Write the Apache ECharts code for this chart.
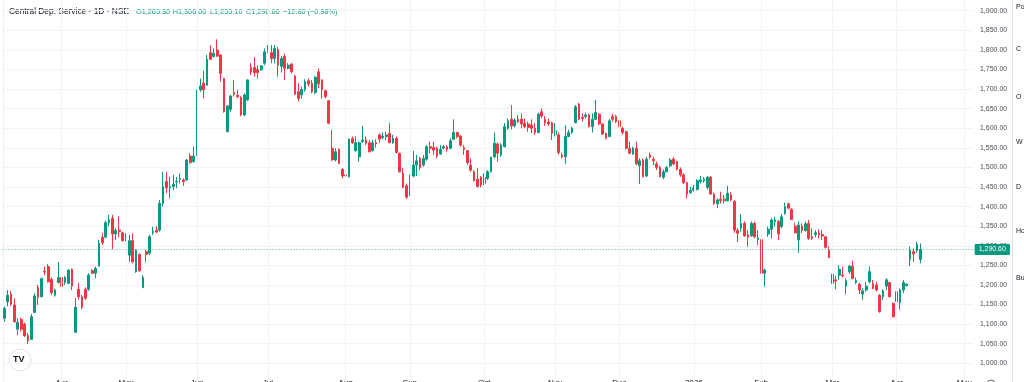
<!DOCTYPE html>
<html><head><meta charset="utf-8">
<script src="https://cdn.jsdelivr.net/npm/echarts@6/dist/echarts.min.js"></script>
<style>html,body{margin:0;padding:0;background:#fff;overflow:hidden}#c{width:1024px;height:382px}</style>
</head><body><div id="c"></div>
<script>
// Daily OHLC, Central Depository Services (NSE), Mar 2025 – Apr 2026
const opens = [1115,1157,1177,1149,1087,1112,1100,1071,1061,1130,1194,1170,1235,1247,1214,1174,1206,1219,1206,1204,
1240,1079,1189,1170,1189,1189,1237,1230,1248,1322,1322,1359,1370,1330,1340,1333,1315,1276,1313,1234,
1278,1193,1285,1281,1333,1340,1340,1408,1464,1448,1451,1463,1470,1468,1468,1529,1515,1532,1698,1715,
1710,1793,1783,1800,1787,1727,1591,1648,1691,1684,1679,1634,1672,1755,1755,1750,1749,1766,1801,1793,
1778,1801,1758,1783,1753,1764,1733,1693,1685,1699,1721,1715,1691,1744,1723,1696,1670,1549,1519,1546,
1495,1481,1476,1574,1543,1527,1566,1570,1563,1543,1563,1583,1576,1579,1587,1563,1574,1536,1485,1453,
1430,1478,1506,1523,1506,1521,1553,1551,1549,1534,1549,1553,1549,1572,1589,1580,1551,1543,1506,1489,
1470,1475,1459,1472,1489,1527,1560,1532,1553,1600,1623,1606,1623,1623,1613,1611,1608,1600,1589,1642,
1623,1616,1614,1583,1583,1532,1527,1579,1589,1614,1662,1628,1630,1634,1604,1623,1636,1611,1587,1579,
1630,1630,1619,1600,1591,1549,1534,1549,1504,1519,1478,1532,1521,1509,1500,1475,1489,1504,1521,1515,
1495,1481,1461,1436,1442,1444,1464,1466,1449,1475,1432,1407,1419,1419,1415,1430,1413,1339,1345,1357,
1328,1325,1357,1316,1316,1230,1330,1342,1362,1362,1349,1383,1407,1393,1350,1315,1350,1339,1357,1323,
1329,1332,1329,1323,1289,1204,1213,1225,1225,1197,1234,1248,1206,1202,1177,1187,1208,1204,1200,1174,
1170,1197,1206,1153,1157,1155,1187,1198,1265,1285,1287.5,1265.3];
const closes = [1140,1174,1151,1106,1105,1087,1070,1058,1119,1172,1168,1216,1233,1208,1180,1187,1219,1196,1219,1238,
1197,1143,1170,1143,1166,1225,1230,1242,1306,1308,1359,1366,1330,1339,1336,1313,1325,1313,1259,1289,
1236,1219,1278,1323,1337,1335,1408,1451,1448,1451,1457,1464,1472,1464,1519,1512,1529,1681,1708,1698,
1776,1776,1791,1784,1740,1642,1657,1682,1687,1681,1634,1685,1723,1744,1742,1742,1759,1795,1795,1778,
1804,1761,1778,1753,1761,1744,1687,1676,1699,1719,1713,1693,1730,1713,1699,1681,1613,1519,1540,1510,
1478,1478,1572,1563,1563,1563,1570,1562,1540,1563,1560,1572,1580,1583,1563,1574,1538,1489,1449,1424,
1475,1506,1517,1500,1523,1553,1549,1544,1529,1546,1553,1546,1568,1589,1579,1557,1546,1512,1493,1466,
1451,1455,1475,1489,1526,1562,1536,1557,1604,1619,1606,1621,1617,1611,1604,1602,1600,1589,1636,1631,
1614,1611,1587,1594,1538,1527,1579,1589,1600,1655,1623,1625,1634,1604,1623,1640,1611,1585,1574,1619,
1623,1617,1604,1589,1549,1536,1549,1509,1517,1476,1521,1526,1517,1500,1476,1489,1500,1519,1509,1495,
1481,1461,1432,1442,1447,1466,1468,1470,1475,1432,1408,1417,1415,1415,1434,1417,1340,1332,1357,1325,
1322,1357,1323,1320,1230,1238,1342,1366,1366,1330,1374,1400,1396,1367,1333,1353,1339,1356,1319,1319,
1333,1328,1325,1296,1270,1228,1210,1240,1223,1211,1248,1217,1211,1187,1185,1197,1234,1191,1187,1132,
1185,1213,1170,1119,1183,1187,1206,1202,1289,1279,1303.4,1290.6];
const lows = [1106,1145,1146,1104,1072,1081,1068,1049,1060,1128,1149,1168,1225,1206,1174,1170,1204,1194,1200,1202,
1187,1078,1163,1138,1162,1185,1228,1217,1248,1302,1319,1349,1291,1315,1322,1311,1311,1259,1255,1231,
1234,1193,1259,1276,1328,1332,1336,1400,1434,1421,1442,1447,1459,1453,1466,1510,1512,1529,1693,1676,
1708,1774,1781,1783,1719,1640,1591,1642,1681,1676,1631,1631,1670,1736,1732,1727,1747,1761,1793,1766,
1766,1732,1742,1723,1750,1740,1685,1668,1676,1693,1706,1689,1687,1702,1676,1676,1610,1517,1515,1509,
1472,1464,1475,1560,1540,1515,1562,1557,1538,1540,1551,1563,1572,1570,1562,1560,1536,1487,1447,1419,
1427,1475,1478,1493,1502,1517,1536,1532,1523,1532,1546,1540,1546,1570,1574,1553,1532,1506,1489,1464,
1449,1449,1455,1468,1487,1523,1515,1527,1551,1596,1597,1602,1613,1600,1600,1591,1587,1583,1587,1625,
1606,1606,1570,1579,1532,1523,1509,1577,1585,1613,1621,1617,1625,1602,1589,1621,1608,1583,1572,1577,
1617,1613,1602,1583,1546,1534,1532,1506,1458,1475,1475,1521,1506,1493,1475,1470,1487,1500,1506,1492,
1476,1458,1421,1432,1438,1441,1459,1461,1444,1430,1404,1396,1408,1408,1413,1413,1333,1310,1336,1323,
1298,1323,1319,1302,1196,1196,1323,1319,1349,1315,1345,1379,1393,1366,1332,1282,1332,1336,1315,1315,
1322,1319,1315,1293,1268,1202,1189,1213,1219,1177,1228,1214,1202,1177,1162,1183,1204,1189,1183,1129,
1162,1187,1168,1117,1149,1138,1179,1196,1248,1259,1282.4,1255.1];
const highs = [1145,1187,1185,1166,1115,1117,1104,1077,1126,1179,1200,1219,1247,1253,1219,1191,1259,1221,1223,1240,
1242,1166,1206,1174,1194,1230,1240,1247,1315,1333,1364,1379,1379,1345,1375,1336,1332,1328,1332,1291,
1281,1225,1289,1328,1349,1350,1417,1489,1489,1476,1481,1476,1485,1472,1521,1536,1553,1698,1727,1747,
1787,1812,1804,1827,1789,1729,1659,1685,1723,1698,1682,1689,1725,1766,1781,1761,1761,1804,1812,1812,
1812,1808,1784,1791,1766,1766,1736,1715,1706,1725,1727,1723,1733,1753,1725,1698,1672,1596,1549,1549,
1498,1489,1574,1579,1579,1566,1606,1579,1570,1570,1572,1587,1589,1591,1613,1583,1579,1538,1498,1459,
1481,1542,1532,1527,1532,1557,1566,1566,1553,1557,1557,1557,1574,1623,1591,1583,1557,1544,1523,1493,
1498,1478,1485,1493,1527,1589,1563,1562,1613,1625,1659,1625,1634,1638,1625,1617,1623,1613,1640,1651,
1631,1625,1617,1613,1589,1538,1608,1596,1604,1659,1665,1638,1640,1638,1638,1672,1638,1613,1589,1623,
1636,1634,1640,1604,1594,1566,1553,1566,1523,1523,1527,1538,1527,1515,1504,1495,1504,1523,1527,1517,
1500,1485,1464,1451,1455,1470,1478,1475,1478,1478,1436,1421,1438,1430,1453,1438,1417,1345,1381,1362,
1340,1362,1362,1340,1319,1242,1349,1370,1374,1366,1381,1410,1410,1396,1359,1362,1357,1362,1366,1345,
1340,1342,1340,1325,1298,1253,1223,1251,1247,1217,1251,1262,1219,1206,1191,1208,1247,1213,1208,1177,
1189,1217,1208,1155,1187,1191,1213,1204,1298,1293,1310.4,1306];
// first trading day of each month (index into the candles) and its axis label
const monthTicks = [[17,'Apr'],[36,'May'],[57,'Jun'],[78,'Jul'],[101,'Aug'],[120,'Sep'],[142,'Oct'],
  [163,'Nov'],[182,'Dec'],[204,'2026'],[224,'Feb'],[245,'Mar'],[264,'Apr'],[284,'May']];
const emptySlotsRight = 15;
const symbolTitle = 'Central Dep. Service · 1D · NSE';
const sidePanelWords = ['Po', 'C', 'O', 'W', 'D', 'Ho', 'Bu'];

const UP = '#089981', DOWN = '#F23645';
const n = opens.length;
const categories = Array.from({length: n + emptySlotsRight}, (_, i) => String(i));
const tickMap = new Map(monthTicks.map(t => [String(t[0]), t[1]]));
const candleData = opens.map((o, i) => [o, closes[i], lows[i], highs[i]]);
const fmt = v => v.toLocaleString('en-US', {minimumFractionDigits: 2, maximumFractionDigits: 2});
const lastO = opens[n-1], lastH = highs[n-1], lastL = lows[n-1], lastC = closes[n-1];
const chg = lastC - closes[n-2];
const pct = chg / closes[n-2] * 100;
const sgn = v => (v < 0 ? '\u2212' : '+') + Math.abs(v).toFixed(2);

const chart = echarts.init(document.getElementById('c'), null, {renderer: 'canvas'});
const FONT = 'Liberation Sans, Arial, sans-serif';
const legendItems = [
  {x: 136, t: 'O' + fmt(lastO)},
  {x: 172.7, t: 'H' + fmt(lastH)},
  {x: 210, t: 'L' + fmt(lastL)},
  {x: 246, t: 'C' + fmt(lastC)},
  {x: 283, t: sgn(chg) + ' (' + sgn(pct) + '%)'}
];
const sideY = [8, 50, 98, 143, 188, 232, 279];
chart.setOption({
  animation: false,
  backgroundColor: '#ffffff',
  grid: {left: 2.6, right: 51.34, top: -8.89, height: 391.8, containLabel: false, outerBoundsMode: 'none'},
  xAxis: {
    type: 'category', data: categories, boundaryGap: true,
    axisLine: {show: false}, axisTick: {show: false},
    offset: 0,
    axisLabel: {
      margin: -4.4, fontSize: 8, color: '#131722', fontFamily: FONT,
      interval: (idx, val) => tickMap.has(val),
      formatter: val => tickMap.get(val) || ''
    },
    splitLine: {show: false}
  },
  yAxis: {
    type: 'value', position: 'right', min: 950, max: 1950, interval: 50,
    axisLine: {show: false}, axisTick: {show: false},
    splitLine: {show: true, lineStyle: {color: '#f0f3fa', width: 1}},
    axisLabel: {
      margin: 7.3, fontSize: 7, color: '#4a4e59', fontFamily: FONT,
      showMinLabel: false, showMaxLabel: false, formatter: v => fmt(v)
    }
  },
  series: [
    {
      type: 'line', data: [], silent: true, z: 1,
      markLine: {
        silent: true, symbol: 'none', label: {show: false},
        lineStyle: {color: '#f0f3fa', width: 1, type: 'solid'},
        data: monthTicks.map(t => ({xAxis: String(t[0])}))
      }
    },
    {
      type: 'candlestick', data: candleData, barWidth: 2.2, z: 3,
      itemStyle: {color: UP, color0: DOWN, borderColor: UP, borderColor0: DOWN, borderWidth: 1},
      markLine: {
        silent: true, symbol: 'none', animation: false,
        lineStyle: {color: 'rgba(8,153,129,0.7)', width: 1, type: [1, 2]},
        label: {
          show: true, position: 'end', distance: 2, formatter: fmt(lastC),
          backgroundColor: UP, color: '#fff', fontSize: 7, fontFamily: FONT,
          padding: [2, 4, 2, 4], borderRadius: 1
        },
        data: [{yAxis: lastC}]
      }
    }
  ],
  graphic: [
    {type: 'text', left: 9, top: 7.5, silent: true,
     style: {text: symbolTitle, fill: '#131722', font: '8.4px ' + FONT}},
    ...legendItems.map(it => ({type: 'text', left: it.x, top: 8.2, silent: true,
      style: {text: it.t, fill: UP, font: '7.3px ' + FONT}})),
    {type: 'line', silent: true, shape: {x1: 3.5, y1: 0, x2: 3.5, y2: 382},
     style: {stroke: '#eef0f4', lineWidth: 1}},
    {type: 'line', silent: true, shape: {x1: 1012.5, y1: 0, x2: 1012.5, y2: 382},
     style: {stroke: '#e0e3eb', lineWidth: 1}},
    ...sidePanelWords.map((w, i) => ({type: 'text', silent: true, left: 1016, top: sideY[i] - 4,
      style: {text: w, fill: '#131722', font: '7px ' + FONT}})),
    {type: 'circle', silent: true, shape: {cx: 20, cy: 360, r: 11},
     style: {fill: '#fff', stroke: '#e0e3eb', lineWidth: 1}},
    {type: 'text', silent: true, left: 13, top: 355,
     style: {text: 'TV', fill: '#131722', font: 'bold 9px ' + FONT}},
    {type: 'circle', silent: true, shape: {cx: 991, cy: 384, r: 4},
     style: {fill: 'none', stroke: '#6a6d78', lineWidth: 1}}
  ]
});
</script>
</body></html>
